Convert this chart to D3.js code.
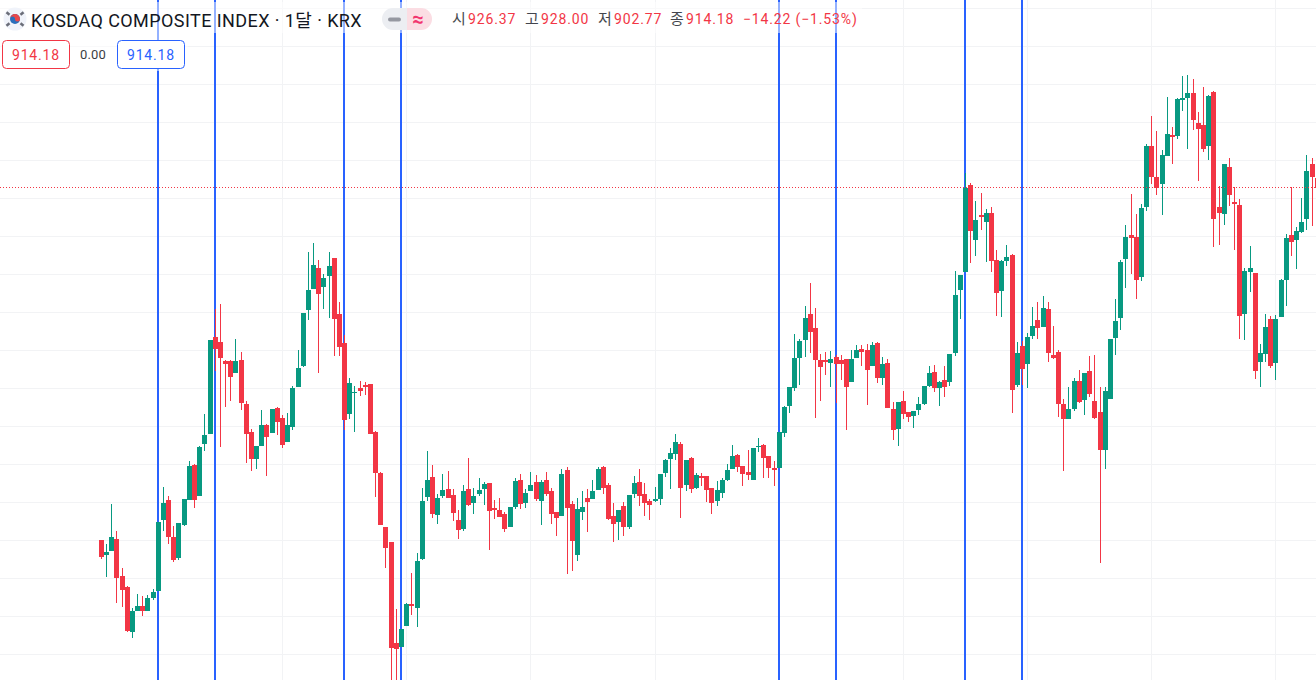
<!DOCTYPE html>
<html>
<head>
<meta charset="utf-8">
<script src="https://cdn.jsdelivr.net/npm/d3@7"></script>
<style>
	html, body { margin: 0; padding: 0; background: #fff; overflow: hidden; }
	text { font-family: Roboto, "Noto Sans CJK KR", sans-serif; }
</style>
</head>
<body>
<div id="chart"></div>
<script>
// monthly candles, prices
const opens = [450.4,431.1,435.9,451.7,403.1,388.6,329.4,357,363.6,357,374.1,383.3,476.7,503,454.4,426.7,470.2,503,549.1,508.3,
	576.7,589.9,717.5,710.9,685.9,685.9,670.1,687.2,629.4,592.5,557,574.1,601.7,591.2,624.1,610.9,579.4,599.1,651.7,679.4,
	753,780.7,808.3,783.3,797.8,821.5,747.8,709.6,616.2,643.8,650.4,654.4,655.7,592.5,538.5,467.5,447.8,314.9,309.6,337.2,
	366.2,360.9,425.4,507,533.3,483.3,508.3,517.5,509.6,476.7,464.9,517.5,499.1,510.9,517.5,525.4,492.5,489.9,484.6,467.5,
	493.8,529.3,499.1,514.9,526.7,501.7,529.3,514.9,487.2,482,542.5,497.8,430.6,487.2,505.7,504.4,516.2,546.5,522.8,482,
	474.1,495.1,467.5,510.9,526.7,510.9,501.7,501.7,504.4,538.6,557,563.6,576.7,522.8,558.3,518.8,534.6,534.6,518.8,501.7,
	512.2,529.3,543.8,562.2,547.8,539.9,529.3,572.8,575.4,560.9,545.1,545.1,591.2,626.8,650.4,689.9,713.6,747.8,729.4,687.3,
	687.3,683.3,691.2,687.3,688.6,658.3,689.9,701.7,700.4,679.4,709.6,663.6,683.3,622.8,596.5,633.3,618.8,613.6,621.5,629.4,
	653,671.5,650.4,661,658.3,696.5,779.3,803,917.5,845.1,878,868.8,880.6,818.8,778,817.5,825.4,654.3,705.6,681.9,
	718.8,739.8,730.6,754.3,693.8,697.7,629.3,609.6,622.7,659.6,634.6,672.7,633.3,618.8,568.8,635.9,716.1,742.5,820.1,851.7,
	849,796.4,888.5,968.8,928,918.8,955.6,983.3,982,1029.3,1032,1038.5,999.1,996.4,968.8,1039.9,888.5,879.3,941.2,895.1,
	891.2,747.7,803,801.7,684.6,695.1,741.2,683.3,743.8,792.5,851.7,845.1,855.6,872.7,945.1,926.37]
const highs = [450.4,445.2,497.8,462.3,413.6,389.9,360.9,379.4,376.7,378.1,386,474.1,520.2,508.3,468.8,472.8,504.4,554.4,550.4,574.1,
	616.2,713.6,754.3,760.9,687.2,687.2,714.9,697.8,633.3,596.5,574.1,621.5,603,622.8,625.4,614.9,617.5,653,700.4,749.1,
	829.3,841.2,818.8,800.4,829.3,821.5,763.6,720.1,663.6,653,659.6,658.3,655.7,593.8,539.9,467.5,447.8,359.6,333.3,367,
	407,433.3,518.8,567.5,549.1,510.9,537.2,541.2,517.5,489.9,522.8,558.3,518.8,532,526.7,525.4,503,505.7,487.2,493.8,
	532,537.2,517.5,539.9,535.9,529.3,539.9,518.8,487.2,543.8,546.4,501.7,505.7,514.9,517.5,529.3,546.5,547.8,525.4,499.1,
	489.9,500.4,509.6,534.6,543.8,525.4,504.4,520.1,537.2,557,571.5,589.9,579.4,555.7,559.6,538.6,538.6,534.6,518.8,528,
	532,550.4,575.4,563.6,547.8,568.8,571.5,584.6,576.7,560.9,554.4,592.5,626.8,651.8,721.5,714.9,758.3,788.6,755.7,695.2,
	697.8,699.1,693.9,693.9,688.6,700.4,707,707,708.3,711,711,691.2,688.6,632,632,646.5,618.8,620.2,638.6,653,
	679.4,680.7,659.6,679.4,695.2,804.4,799,932.8,920.1,896.4,906.9,885.9,888.5,831.9,818.8,838.5,826.7,710.9,712.2,722.7,
	756.9,763.5,771.4,763.5,731.9,700.4,635.9,651.7,663.5,674,670.1,692.5,693.8,651.7,651.7,714.8,767.5,818.8,864.8,905.6,
	879.3,892.5,971.4,1008.3,988.5,963.5,1033.3,993.8,1032,1060.9,1062.2,1057,1013.5,1046.4,1035.9,1041.2,916.2,945.1,953,914.8,
	899,808.3,837.2,801.7,708.3,747.7,745.1,746.4,793.8,853,914.8,862.2,900.4,957,953,928]
const lows = [425.4,402.2,435.9,367.5,362.3,329.4,321.5,357,350.4,357,371.5,383.3,462.3,445.2,421.5,424.1,468.8,503,492.5,508.3,
	567.5,589.9,672.8,572.8,625.4,633.3,670.1,621.5,551.7,541.2,543.8,574.1,534.6,591.2,588.6,571.5,579.4,595.1,651.7,678,
	739.9,780.7,670.1,754.3,742.5,692.5,692.5,595.1,609.6,592.5,639.9,641.2,589.9,507,470.1,413.5,245.7,262,309.6,337.2,
	351.7,335.9,424.1,501.7,479.3,471.4,505.7,505.7,475.4,451.7,462.2,495.1,484.6,508.3,496.4,437.2,478,480.6,460.9,467.5,
	491.2,491.2,492.5,514.9,501.7,470.1,508.3,471.4,455.7,482,405.7,409.6,422.8,476.7,460.9,504.4,516.2,510.9,476.7,447.8,
	450.4,455.7,464.9,505.7,495.1,482,476.7,500.4,496.5,533.3,517.5,555.7,479.4,514.9,512.2,517.5,521.5,500.4,484.6,495.1,
	505.7,528,543.8,539.9,521.5,529.3,529.3,566.2,532,532,521.5,545.1,586,617.5,646.5,654.4,691.2,696.5,611,633.3,
	667.5,651.8,630.7,661,595.2,658.3,689.9,679.4,628,679.4,657,654.4,624.1,582,574.1,609.6,605.7,597.8,614.9,628,
	651.8,645.2,626.8,638.6,653,692.6,741.1,803,814.8,824,858.3,816.1,803,745.1,743.8,810.9,617.5,651.7,654.3,650.4,
	714.8,714.8,730.6,684.6,688.5,612.2,541.1,609.6,620.1,630.6,614.8,638.5,609.6,420.1,543.8,635.9,693.8,726.7,781.9,800.4,
	767.5,791.2,883.3,918.8,904.3,878,955.6,945.1,978,1014.9,964.9,989.9,922.7,960.9,950.4,835.9,838.5,864.9,889.9,832,
	714.9,713.5,776.7,662.2,651.7,684.6,676.7,660.9,743.8,758.3,824,807,854.3,858.3,863.5,902.77]
const closes = [428.5,434.6,454.4,400.9,385.1,330.7,357,363.6,357,374.1,382,474.1,499.1,454.4,424.1,472.8,504.4,547.8,503,572.8,
	588.6,713.6,701.7,689.9,682,664.9,685.9,630.7,589.9,557,574.1,601.7,585.9,622.8,605.7,575.4,601.7,650.4,676.7,749.1,
	779.3,812.2,774.1,795.1,810.9,741.2,704.3,608.3,657,645.1,646.5,651.7,589.9,538.5,470.1,439.9,308.3,307,333.3,366.2,
	363.5,422.8,501.7,529.3,484.6,505.7,516.2,505.7,485.9,463.5,514.9,496.4,508.3,516.2,524.1,488.5,489.9,480.6,464.9,493.8,
	528,497.8,512.2,522.8,504.3,526.7,510.9,484.6,479.3,537.2,492.5,449.1,491.2,493.8,500.4,514.9,543.8,518.8,478,471.5,
	489.9,467.5,509.6,525.4,508.3,499.1,496.5,504.4,537.2,555.7,564.9,579.4,518.8,555.7,517.5,535.9,532,516.2,499.1,516.2,
	529.3,542.5,560.9,546.5,537.2,535.9,571.5,574.1,558.3,545.1,542.5,592.5,625.4,651.8,689.9,712.3,742.5,724.1,687.3,678.1,
	684.6,688.6,682,682,651.8,688.6,700.4,697.8,674.1,707,663.6,682,624.1,595.2,632,616.2,612.3,620.2,629.4,653,
	670.2,650.4,658.3,651.8,695.2,772.8,799,913.5,856.9,871.4,875.4,880.6,817.5,775.4,817.5,822.7,647.7,696.4,675.4,717.5,
	731.9,729.3,755.6,696.4,689.8,629.3,609.6,622.7,659.6,631.9,670.1,642.5,610.9,568.8,646.4,714.8,738.5,816.1,849,847.8,
	792.5,887.2,968.8,928,913.5,957,984.6,980.6,1030.6,1032,1038.5,1003,991.2,964.9,1034.6,872.7,880.6,945.1,904.3,892.5,
	745.1,804.3,808.3,672.8,696.4,730.6,679.4,741.2,792.5,847.8,842.5,857,868.8,935.9,928,914.18]

// candle indexes of the drawn vertical lines and of the time grid
const markerBars = [11, 22, 47, 58, 131, 142, 167, 178]
const gridBars = [11, 35, 59, 83, 107, 131, 155, 179, 203, 227]
const priceTicks = d3.range(250, 1200, 50)

const lastPrice = 914.18
const titleText = 'KOSDAQ COMPOSITE INDEX · 1달 · KRX'
const ohlcLabels = ['시', '고', '저', '종']
const ohlcValues = ['926.37', '928.00', '902.77', '914.18']
const changeText = '−14.22 (−1.53%)'

const width = 1316, height = 680
const red = '#f23645', green = '#089981', blue = '#2962ff', gridColor = '#f2f3f5', inkColor = '#131722'

let svg = d3.select('#chart')
.append('svg')
.attr('width', width)
.attr('height', height)
.style('display', 'block')

let xScale = d3.scaleLinear()
.domain([11, 178])
.range([158.3, 1022.4])

let yScale = d3.scaleLinear()
.domain([250, 1150])
.range([692.3, 8.3])

const col = i => Math.floor(xScale(i))
const row = p => Math.round(yScale(p))

// grid
svg.selectAll('.hgrid')
.data(priceTicks)
.join('rect')
.attr('class', 'hgrid')
.attr('x', 0)
.attr('y', d => Math.floor(yScale(d)))
.attr('width', width)
.attr('height', 1)
.attr('fill', gridColor)

svg.selectAll('.vgrid')
.data(gridBars)
.join('rect')
.attr('class', 'vgrid')
.attr('x', d => col(d))
.attr('y', 0)
.attr('width', 1)
.attr('height', height)
.attr('fill', gridColor)

svg.selectAll('.marker')
.data(markerBars)
.join('rect')
.attr('class', 'marker')
.attr('x', d => col(d) - 1)
.attr('y', 0)
.attr('width', 2)
.attr('height', height)
.attr('fill', blue)

// candles
let candles = svg.selectAll('.candle')
.data(opens.map((o, i) => ({ i, o, h: highs[i], l: lows[i], c: closes[i] })))
.join('g')
.attr('class', 'candle')
.attr('fill', d => d.c < d.o ? red : green)

candles.append('rect')
.attr('x', d => col(d.i))
.attr('y', d => row(d.h))
.attr('width', 1)
.attr('height', d => Math.max(1, row(d.l) - row(d.h)))

candles.append('rect')
.attr('x', d => col(d.i) - 2)
.attr('y', d => row(Math.max(d.o, d.c)))
.attr('width', 5)
.attr('height', d => Math.max(1, row(Math.min(d.o, d.c)) - row(Math.max(d.o, d.c))))

// last price line
svg.append('line')
.attr('x1', 0)
.attr('x2', width)
.attr('y1', Math.floor(yScale(lastPrice)) + 0.5)
.attr('y2', Math.floor(yScale(lastPrice)) + 0.5)
.attr('stroke', red)
.attr('stroke-dasharray', '1 2')

// legend
let legend = svg.append('g')

legend.append('rect')
.attr('x', 0).attr('y', 2).attr('width', 862).attr('height', 31)
.attr('fill', '#fff').attr('opacity', 0.5)
legend.append('rect')
.attr('x', 0).attr('y', 33).attr('width', 188).attr('height', 38)
.attr('fill', '#fff').attr('opacity', 0.5)

// flag
let flag = legend.append('g').attr('transform', 'translate(15,19)')
flag.append('circle').attr('r', 11.5).attr('fill', '#f0f3fa')
flag.append('circle').attr('r', 5).attr('fill', '#2a6ebb')
flag.append('path').attr('d', 'M-5,0 A5,5 0 0 1 5,0 A2.5,2.5 0 0 1 0,0 A2.5,2.5 0 0 0 -5,0').attr('fill', '#e8484a')
;[[-7, -5.5, 40], [7, -5.5, -40], [-7, 5.5, -40], [7, 5.5, 40]].forEach(t => {
	flag.append('rect').attr('x', -2).attr('y', -1.2).attr('width', 4).attr('height', 2.4)
	.attr('fill', '#6a6d78')
	.attr('transform', `translate(${t[0]},${t[1]}) rotate(${t[2]})`)
})

legend.append('text')
.attr('x', 31).attr('y', 27)
.attr('font-size', 18)
.attr('letter-spacing', 0.42)
.attr('fill', inkColor)
.text(titleText)

// status pill
legend.append('path').attr('d', 'M393,8 H407 V30 H393 A11,11 0 0 1 393,8').attr('fill', '#eceef2')
legend.append('path').attr('d', 'M407,8 H421 A11,11 0 0 1 421,30 H407 Z').attr('fill', '#fbdde3')
legend.append('rect').attr('x', 388).attr('y', 17.5).attr('width', 13).attr('height', 4).attr('rx', 2).attr('fill', '#9598a1')
legend.append('text').attr('x', 418).attr('y', 26).attr('font-size', 20).attr('font-weight', 700)
.attr('text-anchor', 'middle').attr('fill', '#f2366f').text('≈')

// ohlc
let ohlcX = [452, 525, 598, 670]
ohlcLabels.forEach((t, i) => {
	legend.append('text').attr('x', ohlcX[i]).attr('y', 24).attr('font-size', 15).attr('fill', inkColor).attr('opacity', 0.8).text(t)
	legend.append('text').attr('x', ohlcX[i] + 16).attr('y', 24).attr('font-size', 14).attr('letter-spacing', 0.85).attr('fill', red).text(ohlcValues[i])
})
legend.append('text').attr('x', 743).attr('y', 24).attr('font-size', 14).attr('letter-spacing', 0.85).attr('fill', red).text(changeText)

// bid / ask boxes
legend.append('rect').attr('x', 2.5).attr('y', 40.5).attr('width', 67).attr('height', 28).attr('rx', 4).attr('fill', '#fff').attr('stroke', red)
legend.append('text').attr('x', 36).attr('y', 60).attr('font-size', 14).attr('letter-spacing', 0.85).attr('text-anchor', 'middle').attr('fill', red).text(lastPrice.toFixed(2))
legend.append('text').attr('x', 93).attr('y', 59).attr('font-size', 13).attr('letter-spacing', 0.2).attr('text-anchor', 'middle').attr('fill', inkColor).attr('opacity', 0.85).text('0.00')
legend.append('rect').attr('x', 117.5).attr('y', 40.5).attr('width', 67).attr('height', 28).attr('rx', 4).attr('fill', '#fff').attr('stroke', blue)
legend.append('text').attr('x', 151).attr('y', 60).attr('font-size', 14).attr('letter-spacing', 0.85).attr('text-anchor', 'middle').attr('fill', blue).text(lastPrice.toFixed(2))
</script>
</body>
</html>
